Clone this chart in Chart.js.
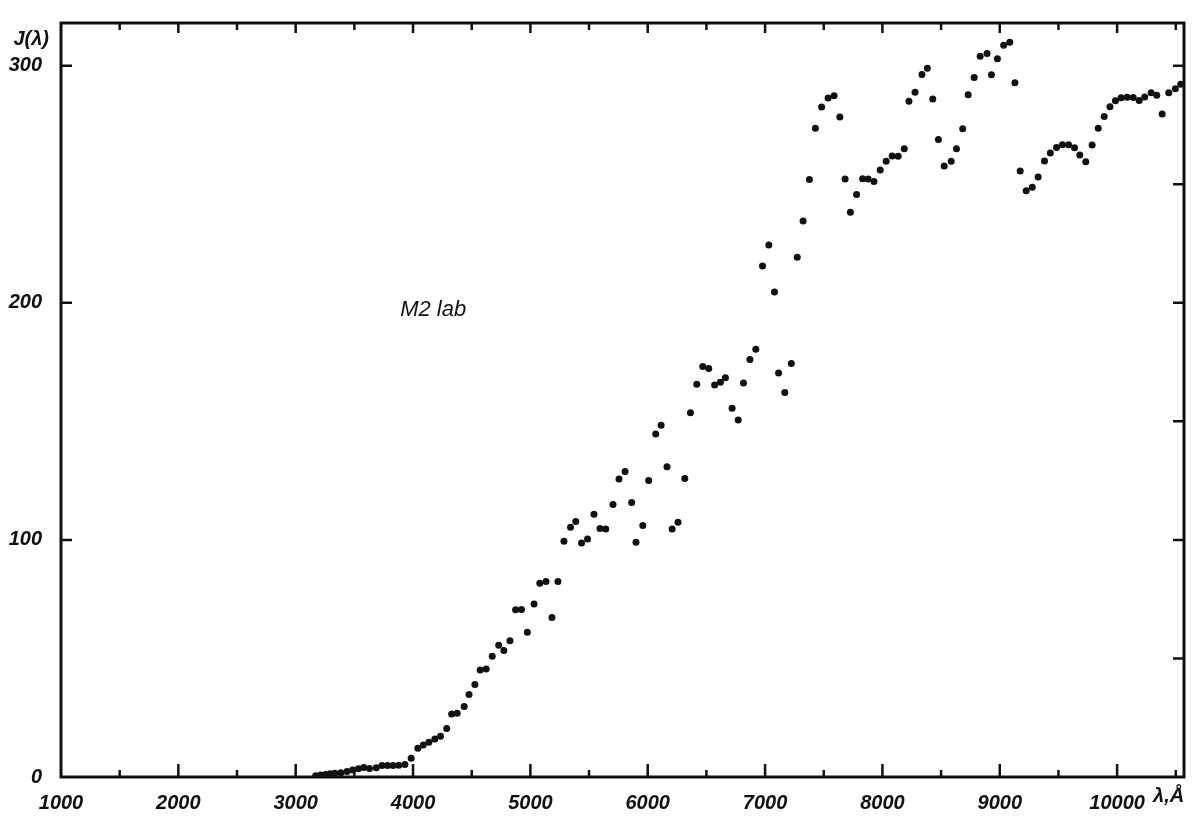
<!DOCTYPE html>
<html>
<head>
<meta charset="utf-8">
<script src="https://cdn.jsdelivr.net/npm/chart.js@4.4.0/dist/chart.umd.min.js"></script>
<style>
  html, body { margin: 0; padding: 0; background: #fff; }
</style>
</head>
<body>
<canvas id="spectrum" width="1200" height="822"></canvas>
<script>
// wavelength in Angstrom
const wavelength = [
  3170, 3213, 3256, 3293, 3334, 3385, 3437, 3485, 3534, 3580, 3629, 3687, 3735, 3782, 3830, 3879, 3931,
  3984, 4041, 4087, 4135, 4186, 4234, 4287, 4329, 4376, 4436, 4477, 4527, 4572, 4623, 4675, 4730, 4774,
  4826, 4874, 4924, 4974, 5031, 5080, 5133, 5184, 5235,
  5286, 5342, 5387, 5436, 5487, 5542, 5593, 5642, 5704, 5755, 5807, 5863, 5900, 5958, 6008, 6068, 6114,
  6164, 6208, 6258, 6316, 6364, 6418, 6469, 6520,
  6570, 6619, 6662, 6719, 6771, 6816, 6871, 6921, 6978, 7032, 7080,
  7115, 7168, 7224, 7274, 7324, 7378, 7429, 7482, 7537, 7588, 7637,
  7682, 7727, 7780, 7831, 7878, 7928, 7981, 8032, 8083, 8134, 8186,
  8226, 8278, 8337, 8383, 8429, 8477, 8526, 8586, 8631, 8684, 8731, 8782, 8833, 8892, 8929, 8980, 9033, 9085,
  9129, 9174, 9225, 9277, 9327, 9381, 9431, 9484, 9534, 9586, 9637, 9682, 9733, 9787, 9839, 9890, 9939,
  9986, 10034, 10085, 10137, 10188, 10235, 10290, 10338, 10384, 10440, 10496, 10542
];

// J(lambda)
const intensity = [
  0.5, 0.8, 1.1, 1.4, 1.6, 1.8, 2.3, 2.9, 3.5, 4.0, 3.6, 3.9, 4.9, 4.8, 4.9, 5.0, 5.3,
  7.9, 12.1, 13.5, 14.7, 16.0, 17.2, 20.5, 26.6, 26.9, 29.7, 34.8, 39.0, 45.1, 45.6, 50.9, 55.6, 53.3,
  57.5, 70.5, 70.6, 61.1, 73.0, 81.7, 82.5, 67.3, 82.4,
  99.4, 105.3, 107.8, 98.7, 100.4, 110.8, 104.8, 104.6, 114.9, 125.7, 128.8, 115.8, 99.0, 106.1, 125.0, 144.7, 148.3,
  130.8, 104.6, 107.4, 125.9, 153.6, 165.6, 173.1, 172.3,
  165.3, 166.5, 168.4, 155.5, 150.6, 166.2, 176.1, 180.4, 215.5, 224.4, 204.5,
  170.4, 162.2, 174.4, 219.2, 234.5, 252.0, 273.6, 282.6, 286.4, 287.3, 278.4,
  252.2, 238.2, 245.7, 252.3, 252.2, 251.1, 256.0, 259.7, 261.9, 261.8, 265.0,
  285.0, 288.8, 296.3, 298.9, 285.9, 268.9, 257.7, 259.7, 265.0, 273.4, 287.7, 295.0, 304.0, 305.1, 296.2, 302.9, 308.6, 309.9,
  292.8, 255.6, 247.2, 248.7, 253.0, 259.8, 263.2, 265.5, 266.6, 266.7, 265.4, 262.3, 259.5, 266.5, 273.6, 278.6, 282.7,
  285.2, 286.5, 286.7, 286.6, 285.3, 286.8, 288.6, 287.5, 279.6, 288.6, 290.3, 292.2
];

const xLabelTicks = [1000, 2000, 3000, 4000, 5000, 6000, 7000, 8000, 9000, 10000];
const xMajorMarks = [2000, 3000, 4000, 5000, 6000, 7000, 8000, 9000, 10000];
const xMinorMarks = [1500, 2500, 3500, 4500, 5500, 6500, 7500, 8500, 9500, 10500];
const yLabelTicks = [0, 100, 200, 300];
const yLeftMarks = [100, 200, 300];
const yRightMarks = [50, 100, 150, 200, 250, 300];

const labelFont = { family: "'Liberation Sans', Arial, sans-serif", size: 20, weight: "bold", style: "italic" };

// frame, inward tick marks and the loose texts
const framePlugin = {
  id: "frame",
  afterDraw(chart) {
    const { ctx, chartArea: a, scales } = chart;
    const x = scales.x, y = scales.y;
    ctx.save();
    ctx.strokeStyle = "#111";
    ctx.lineWidth = 3;
    ctx.strokeRect(a.left, a.top, a.right - a.left, a.bottom - a.top);

    ctx.lineWidth = 2.5;
    ctx.beginPath();
    xMajorMarks.forEach((v) => {
      const px = x.getPixelForValue(v);
      ctx.moveTo(px, a.bottom); ctx.lineTo(px, a.bottom - 13);
      ctx.moveTo(px, a.top); ctx.lineTo(px, a.top + 10);
    });
    xMinorMarks.forEach((v) => {
      const px = x.getPixelForValue(v);
      ctx.moveTo(px, a.bottom); ctx.lineTo(px, a.bottom - 7);
      ctx.moveTo(px, a.top); ctx.lineTo(px, a.top + 7);
    });
    yLeftMarks.forEach((v) => {
      const py = y.getPixelForValue(v);
      ctx.moveTo(a.left, py); ctx.lineTo(a.left + 11, py);
    });
    yRightMarks.forEach((v) => {
      const py = y.getPixelForValue(v);
      ctx.moveTo(a.right, py); ctx.lineTo(a.right - 11, py);
    });
    ctx.stroke();

    ctx.fillStyle = "#111";
    ctx.font = "italic bold 20px 'Liberation Sans', Arial, sans-serif";
    ctx.textBaseline = "middle";
    ctx.textAlign = "right";
    ctx.fillText("J(λ)", a.left - 12, y.getPixelForValue(311));
    ctx.textAlign = "left";
    ctx.fillText("λ,Å", x.getPixelForValue(10000) + 36, a.bottom + 19);

    ctx.font = "italic 22px 'Liberation Sans', Arial, sans-serif";
    ctx.fillText("M2 lab", x.getPixelForValue(3890), y.getPixelForValue(197));
    ctx.restore();
  },
};

const points = wavelength.map((w, i) => ({ x: w, y: intensity[i] }));

new Chart(document.getElementById("spectrum"), {
  type: "scatter",
  data: {
    datasets: [
      {
        data: points,
        pointRadius: 3.5,
        pointBackgroundColor: "#111",
        pointBorderWidth: 0,
      },
    ],
  },
  options: {
    responsive: false,
    animation: false,
    devicePixelRatio: 1,
    layout: { padding: { left: 0, right: 16, top: 19, bottom: 0 } },
    plugins: {
      legend: { display: false },
      tooltip: { enabled: false },
    },
    scales: {
      x: {
        type: "linear",
        min: 1000,
        max: 10570,
        grid: { display: false },
        border: { display: false },
        afterBuildTicks: (scale) => {
          scale.ticks = xLabelTicks.map((v) => ({ value: v }));
        },
        afterFit: (scale) => {
          scale.height = 45;
        },
        ticks: {
          font: labelFont,
          color: "#111",
          padding: 6,
          maxRotation: 0,
          autoSkip: false,
          callback: (v) => String(v),
        },
      },
      y: {
        type: "linear",
        min: 0,
        max: 318,
        grid: { display: false },
        border: { display: false },
        afterBuildTicks: (scale) => {
          scale.ticks = yLabelTicks.map((v) => ({ value: v }));
        },
        afterFit: (scale) => {
          scale.width = 61;
        },
        ticks: {
          font: labelFont,
          color: "#111",
          padding: 11,
          callback: (v) => String(v),
        },
      },
    },
  },
  plugins: [framePlugin],
});
</script>
</body>
</html>
